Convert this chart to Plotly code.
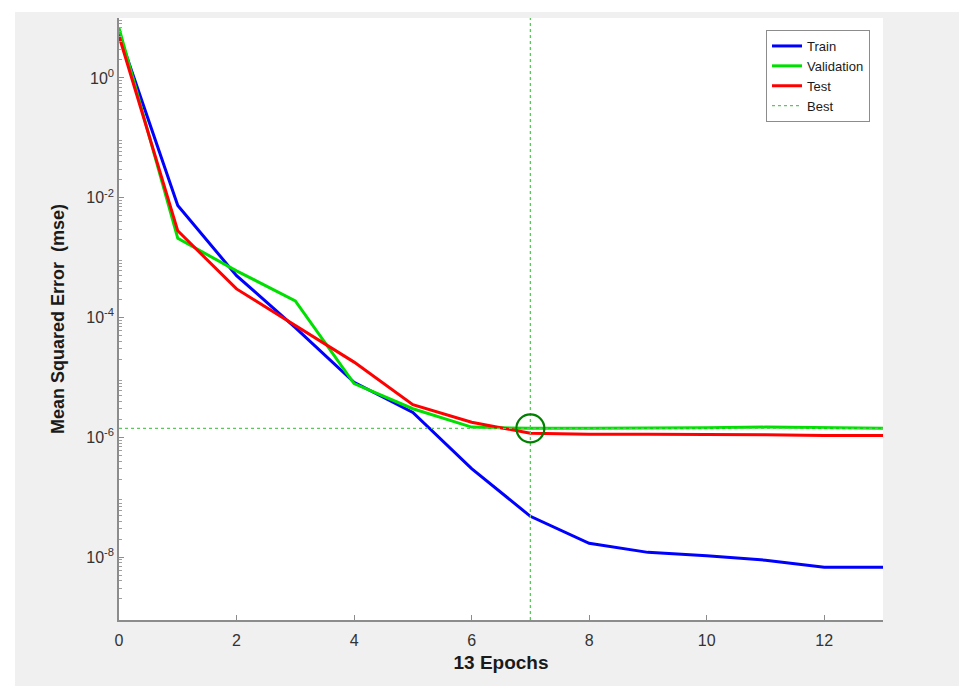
import plotly.graph_objects as go

epochs = list(range(0, 14))
train_mse = [5.4, 7.4e-3, 5.0e-4, 6.8e-5, 8.3e-6, 2.6e-6, 3.0e-7, 4.8e-8, 1.7e-8,
             1.2e-8, 1.05e-8, 8.9e-9, 6.8e-9, 6.8e-9]
val_mse = [6.8, 2.1e-3, 6.0e-4, 1.9e-4, 7.9e-6, 3.0e-6, 1.48e-6, 1.41e-6, 1.41e-6,
           1.41e-6, 1.45e-6, 1.48e-6, 1.45e-6, 1.41e-6]
test_mse = [5.0, 2.8e-3, 3.0e-4, 7.4e-5, 1.8e-5, 3.5e-6, 1.78e-6, 1.17e-6, 1.12e-6,
            1.12e-6, 1.12e-6, 1.1e-6, 1.07e-6, 1.07e-6]
best_epoch = 7
best_val = val_mse[best_epoch]

y_tickvals = [1e-8, 1e-6, 1e-4, 1e-2, 1e0]
y_ticktext = ["10<sup>-8</sup>", "10<sup>-6</sup>", "10<sup>-4</sup>", "10<sup>-2</sup>", "10<sup>0</sup>"]
x_tickvals = [0, 2, 4, 6, 8, 10, 12]

y_min_exp, y_max_exp = -9.05, 1.0
minor_vals = [m * 10 ** k for k in range(-10, 2) for m in range(2, 10)]

FONT = "Liberation Sans, Arial, Helvetica, sans-serif"

fig = go.Figure()
fig.add_trace(go.Scatter(x=epochs, y=train_mse, mode="lines", name="Train",
                         line=dict(color="#0000ff", width=3)))
fig.add_trace(go.Scatter(x=epochs, y=val_mse, mode="lines", name="Validation",
                         line=dict(color="#00e000", width=3)))
fig.add_trace(go.Scatter(x=epochs, y=test_mse, mode="lines", name="Test",
                         line=dict(color="#ff0000", width=3)))
# Best lines
fig.add_trace(go.Scatter(x=[epochs[0], epochs[-1]], y=[best_val, best_val], mode="lines",
                         name="Best", line=dict(color="#5cc85c", width=1.3, dash="dot")))
fig.add_trace(go.Scatter(x=[best_epoch, best_epoch], y=[10 ** y_min_exp, 10 ** y_max_exp],
                         mode="lines", showlegend=False,
                         line=dict(color="#5cc85c", width=1.3, dash="dot")))
fig.add_trace(go.Scatter(x=[best_epoch], y=[best_val], mode="markers", showlegend=False,
                         marker=dict(symbol="circle-open", size=28, color="#007f00",
                                     line=dict(width=2.2, color="#007f00"))))

W, H = 959, 686
L, R, T, B = 119, 76, 18, 66
pw, ph = W - L - R, H - T - B

def px_x(p):
    return (p - L) / pw

def px_y(p):
    return (H - B - p) / ph

fig.add_shape(type="rect", xref="paper", yref="paper", layer="below",
              x0=px_x(15), x1=px_x(W + 5), y0=px_y(H + 5), y1=px_y(12),
              fillcolor="#f0f0f0", line=dict(width=0))
fig.add_shape(type="rect", xref="paper", yref="paper", layer="below",
              x0=0, x1=1, y0=0, y1=1, fillcolor="#ffffff", line=dict(width=0))

fig.update_layout(
    width=W, height=H,
    margin=dict(l=L, r=R, t=T, b=B, autoexpand=False),
    paper_bgcolor="#ffffff", plot_bgcolor="#ffffff",
    font=dict(family=FONT, color="#262626"),
    legend=dict(x=px_x(870), y=px_y(30), xanchor="right", yanchor="top",
                bgcolor="#ffffff", bordercolor="#8c8c8c", borderwidth=1,
                font=dict(size=13, color="#1a1a1a", family=FONT),
                tracegroupgap=0),
    xaxis=dict(range=[0, 13], tickvals=x_tickvals, ticks="inside", ticklen=5,
               tickcolor="#8c8c8c", showline=True, linecolor="#8c8c8c", linewidth=1.5,
               showgrid=False, zeroline=False, mirror=False,
               ticklabelstandoff=5,
               tickfont=dict(size=16, color="#333333"),
               title=dict(text="<b>13 Epochs</b>", font=dict(size=19, color="#1a1a1a"),
                          standoff=8)),
    yaxis=dict(type="log", range=[y_min_exp, y_max_exp], tickvals=y_tickvals,
               ticktext=y_ticktext, ticks="inside", ticklen=5, tickcolor="#8c8c8c",
               showline=True, linecolor="#8c8c8c", linewidth=1.5,
               showgrid=False, zeroline=False, mirror=False,
               tickfont=dict(size=16, color="#333333"),
               minor=dict(tickvals=minor_vals, ticks="inside", ticklen=3,
                          tickcolor="#a0a0a0", showgrid=False),
               title=dict(text="<b>Mean Squared Error\u00a0 (mse)</b>",
                          font=dict(size=18, color="#1a1a1a"), standoff=17)),
)

fig.write_html("out.html", config={"displayModeBar": False},
               post_script="document.body.style.margin='0';document.body.style.overflow='hidden';")
